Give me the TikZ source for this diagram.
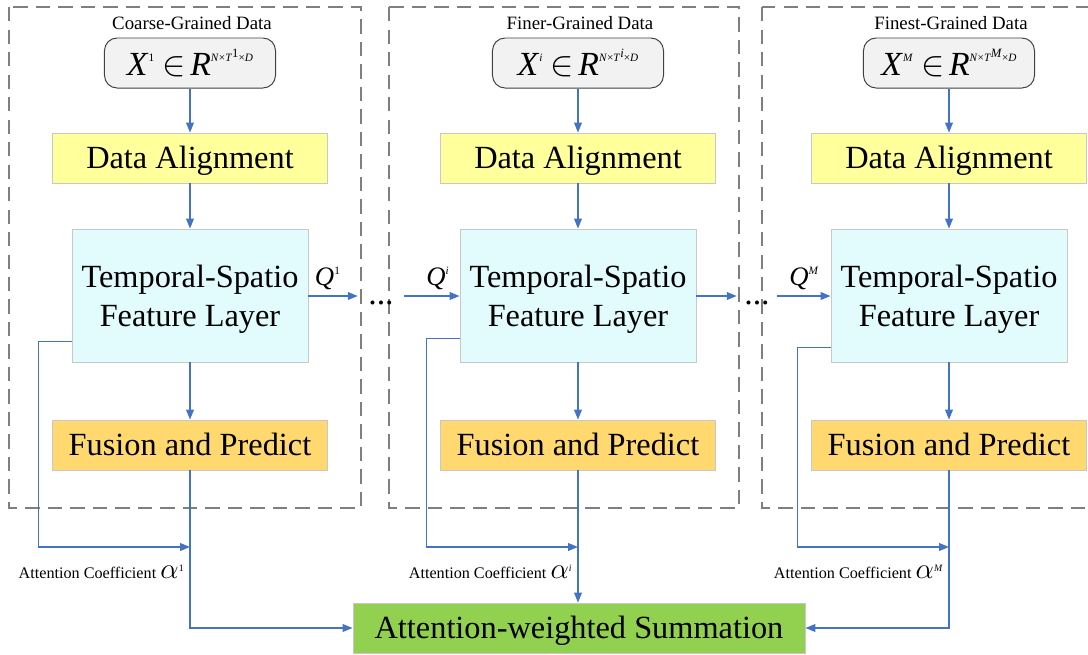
\documentclass[tikz,border=0pt]{standalone}
\usepackage{fontspec}
\setmainfont{Liberation Serif}
\usetikzlibrary{arrows.meta, positioning, calc}

\definecolor{flowblue}{HTML}{4472C4}
\definecolor{panelgray}{HTML}{7F7F7F}
\definecolor{edgegray}{HTML}{C8C8C8}
\definecolor{inputgray}{HTML}{F2F2F2}
\definecolor{alignyellow}{HTML}{FFFF9C}
\definecolor{tscyan}{HTML}{E2FBFC}
\definecolor{fuseorange}{HTML}{FFD96F}
\definecolor{sumgreen}{HTML}{92D050}

% small raised text
\newcommand{\sups}[2][7]{\raisebox{0.9ex}{\fontsize{#1}{#1}\selectfont #2}}

\tikzset{
    panel/.style={draw=panelgray, line width=1.4pt, dash pattern=on 10pt off 6pt},
    title/.style={font=\fontsize{13.4}{14}\selectfont},
    inbox/.style={draw=black!75, fill=inputgray, rounded corners=9pt, line width=0.7pt,
        minimum width=4.275cm, minimum height=1.25cm, inner sep=0pt},
    stepbox/.style={draw=edgegray, line width=0.6pt, inner sep=0pt,
        font=\fontsize{23}{28}\selectfont},
    one line/.style={text height=20pt, text depth=5pt},
    align box/.style={stepbox, one line, fill=alignyellow, minimum width=6.875cm, minimum height=1.25cm},
    ts box/.style={stepbox, fill=tscyan, minimum width=5.9cm, minimum height=3.325cm, align=center},
    fuse box/.style={stepbox, one line, fill=fuseorange, minimum width=6.875cm, minimum height=1.25cm},
    sum box/.style={stepbox, one line, fill=sumgreen, minimum width=11.3cm, minimum height=1.25cm},
    flow/.style={draw=flowblue, line width=0.9pt, -{Triangle[length=7pt,width=5.5pt]}},
    att/.style={anchor=east, inner sep=0pt, font=\fontsize{11.5}{12}\selectfont},
    qlab/.style={midway, above=4pt, inner sep=0pt, font=\fontsize{19}{19}\selectfont},
    dotsnode/.style={inner sep=0pt, minimum height=0pt, font=\fontsize{24}{24}\selectfont}
}

\begin{document}
\begin{tikzpicture}[x=0.025cm, y=-0.025cm]
    \useasboundingbox (0,0) rectangle (1088,654);
    \clip (0,0) rectangle (1088,654);

    % Branches
    \foreach \i/\cx/\lft/\rgt/\fb/\ttl/\s in {1/190/9/361/46/Coarse/1, 2/578/389/739/43/Finer/\textit{i}, 3/949/762/1100/52/Finest/\textit{M}} {
        \draw[panel] (\lft,7) rectangle (\rgt,508);
        \node[title] (title\i) at (\cx+2,23) {\ttl-Grained Data};
        \node[inbox] (in\i) at (\cx,63) {\fontsize{24}{24}\selectfont\textit{X}\sups[8]{\s}\hspace{6pt}$\in$\hspace{3pt}\textit{R}\sups[8]{\textit{N}×\textit{T}\sups[9]{\s}×\textit{D}}};
        \node[align box] (da\i) at (\cx,158) {Data Alignment};
        \node[ts box] (ts\i) at (\cx,295.5) {\rule{0pt}{21pt}Temporal-Spatio\\Feature Layer};
        \node[fuse box] (fp\i) at (\cx,445) {Fusion and Predict};
        \coordinate (att\i) at (\cx,547);

        \draw[flow] (in\i) -- (da\i);
        \draw[flow] (da\i) -- (ts\i);
        \draw[flow] (ts\i) -- (fp\i);
        \draw[flow] ($(ts\i.west)+(0,\fb)$) -- ++(-33,0) |- (att\i);
        \node[att] (alab\i) at ($(att\i)+(-6,25)$) {Attention Coefficient\hspace{3pt}{\fontsize{20}{20}\selectfont$\alpha$}\sups[7]{\s}};
    }

    % Passing between branches
    \node[dotsnode, minimum width=1.15cm] (dots1) at (381,296) {\raisebox{-6pt}[0pt][0pt]{...}};
    \node[dotsnode, minimum width=1cm] (dots2) at (757,296) {\raisebox{-6pt}[0pt][0pt]{...}};
    \draw[flow] (ts1.east |- dots1) -- (dots1) node[qlab, xshift=-4pt] {\textit{Q}\sups[8]{1}};
    \draw[flow] (dots1) -- (ts2.west |- dots1) node[qlab, xshift=4pt] {\textit{Q}\sups[8]{\textit{i}}};
    \draw[flow] (ts2.east |- dots2) -- (dots2);
    \draw[flow] (dots2) -- (ts3.west |- dots2) node[qlab] {\textit{Q}\sups[8]{\textit{M}}};

    % Summation
    \node[sum box] (sum) at (579,628) {Attention-weighted Summation};
    \draw[flow] (fp1) |- (sum);
    \draw[flow] (fp2) -- (fp2 |- sum.north);
    \draw[flow] (fp3) |- (sum);
\end{tikzpicture}
\end{document}
